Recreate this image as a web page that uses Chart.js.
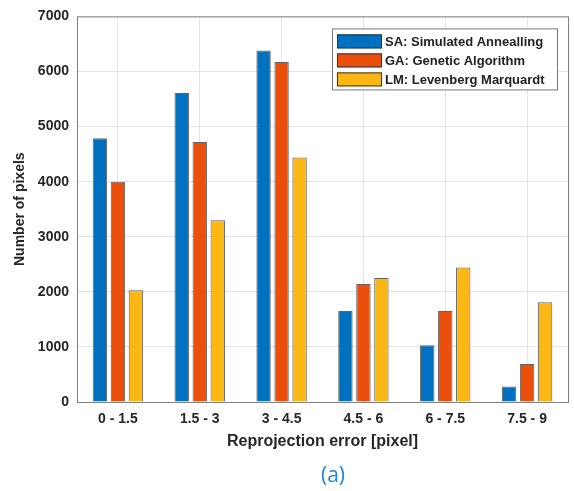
<!DOCTYPE html>
<html>
<head>
<meta charset="utf-8">
<script src="https://cdn.jsdelivr.net/npm/chart.js@4/dist/chart.umd.min.js"></script>
<style>
    html, body { margin: 0; padding: 0; background: #fff; }
    #wrap { position: relative; width: 574px; height: 491px; }
    #caption {
        position: absolute; left: 0; width: 666px; top: 460px;
        text-align: center; font: 21px "Open Sans", sans-serif; color: #1f87d6;
    }
</style>
</head>
<body>
<div id="wrap">
    <canvas id="chart" width="574" height="491"></canvas>
    <div id="caption">(a)</div>
</div>
<script>
const categories = ['0 - 1.5', '1.5 - 3', '3 - 4.5', '4.5 - 6', '6 - 7.5', '7.5 - 9'];
const seriesNames = ['SA: Simulated Annealling', 'GA: Genetic Algorithm', 'LM: Levenberg Marquardt'];
const saValues = [4790, 5610, 6380, 1650, 1030, 280];
const gaValues = [4000, 4720, 6170, 2140, 1650, 690];
const lmValues = [2030, 3300, 4440, 2250, 2440, 1810];
const yTicks = [0, 1000, 2000, 3000, 4000, 5000, 6000, 7000];

const colors = ['#0070c0', '#ec4f0c', '#fbb714'];
const labelFont = '"Liberation Sans", Arial, sans-serif';

// frame round the plot area and the legend box inside it
const framePlugin = {
    id: 'frame',
    afterDraw(chart) {
        const ctx = chart.ctx;
        const a = chart.chartArea;
        ctx.save();
        ctx.strokeStyle = '#808080';
        ctx.lineWidth = 1;
        ctx.strokeRect(a.left + 0.5, a.top + 0.5, a.right - a.left, a.bottom - a.top);

        const boxW = 225, boxH = 61;
        const bx = a.right - 11 - boxW, by = a.top + 12;
        ctx.fillStyle = '#fff';
        ctx.fillRect(bx, by, boxW, boxH);
        ctx.strokeStyle = '#777';
        ctx.strokeRect(bx + 0.5, by + 0.5, boxW, boxH);

        ctx.font = 'bold 13px ' + labelFont;
        ctx.textBaseline = 'middle';
        chart.data.datasets.forEach((ds, i) => {
            const cy = by + 13 + i * 19;
            ctx.fillStyle = ds.backgroundColor;
            ctx.fillRect(bx + 5, cy - 7, 45, 14);
            ctx.strokeStyle = '#333';
            ctx.strokeRect(bx + 5.5, cy - 6.5, 44, 13);
            ctx.fillStyle = '#222';
            ctx.fillText(ds.label, bx + 53, cy + 1);
        });
        ctx.restore();
    }
};

const ctx = document.getElementById('chart').getContext('2d');
new Chart(ctx, {
    type: 'bar',
    data: {
        labels: categories,
        datasets: [saValues, gaValues, lmValues].map((vals, i) => ({
            label: seriesNames[i],
            data: vals,
            backgroundColor: colors[i],
            borderColor: 'rgba(45,45,45,0.75)',
            borderWidth: 1,
            categoryPercentage: 0.66,
            barPercentage: 0.8
        }))
    },
    options: {
        responsive: false,
        animation: false,
        layout: { padding: { top: 15, right: 6, bottom: 40, left: 0 } },
        plugins: {
            legend: { display: false },
            tooltip: { enabled: false }
        },
        scales: {
            x: {
                grid: { offset: false, color: '#e4e4e4', drawTicks: false },
                border: { display: false },
                ticks: { color: '#262626', padding: 9, font: { family: labelFont, size: 14, weight: 'bold' } },
                title: {
                    display: true, text: 'Reprojection error [pixel]', color: '#262626',
                    font: { family: labelFont, size: 16, weight: 'bold' }, padding: { top: 4, bottom: 0 }
                },
                afterFit: s => { s.height = 49; }
            },
            y: {
                min: 0, max: 7000,
                afterBuildTicks: s => { s.ticks = yTicks.map(v => ({ value: v })); },
                grid: { color: '#e4e4e4', drawTicks: false },
                border: { display: false },
                ticks: {
                    color: '#262626', padding: 8, font: { family: labelFont, size: 14, weight: 'bold' },
                    callback: v => String(v)
                },
                title: {
                    display: true, text: 'Number of pixels', color: '#262626',
                    font: { family: labelFont, size: 14, weight: 'bold' }, padding: { top: 12, bottom: 0 }
                },
                afterFit: s => { s.width = 77; }
            }
        }
    },
    plugins: [framePlugin]
});
</script>
</body>
</html>
